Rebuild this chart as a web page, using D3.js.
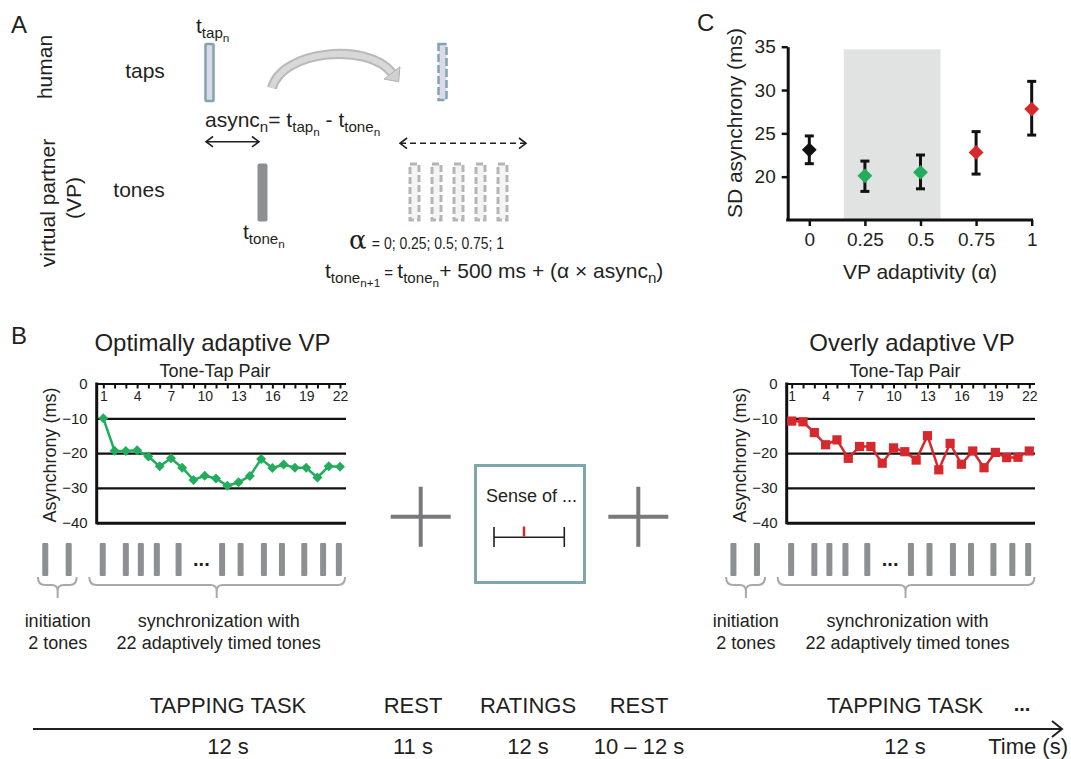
<!DOCTYPE html>
<html>
<head>
<meta charset="utf-8">
<script src="https://cdn.jsdelivr.net/npm/d3@7"></script>
<style>
  body { margin: 0; background: #fff; }
  svg { display: block; }
  text { font-family: 'Liberation Sans', Arial, Helvetica, sans-serif; fill: #231f20; white-space: pre; }
  .narrow { font-family: 'Liberation Sans Narrow', 'Liberation Sans', Arial, sans-serif; }
</style>
</head>
<body>
<div id="container"></div>
<script>
/* DATA */
// tone-tap pairs 1..22
const pairs = [1,2,3,4,5,6,7,8,9,10,11,12,13,14,15,16,17,18,19,20,21,22];
const pairTickLabels = [1,4,7,10,13,16,19,22];
const asyncTicks = [0,-10,-20,-30,-40];
// mean asynchrony (ms) per pair
const optimalAsync = [-10.0,-19.3,-19.4,-19.2,-21.0,-23.8,-21.5,-24.2,-27.7,-26.5,-27.3,-29.4,-28.4,-26.6,-21.7,-24.3,-23.3,-24.2,-24.2,-27.0,-23.8,-23.9];
const overlyAsync = [-10.8,-11.0,-14.1,-17.6,-16.2,-21.5,-18.1,-18.1,-22.9,-18.5,-19.6,-22.0,-15.0,-24.8,-17.2,-23.2,-19.4,-24.2,-19.8,-21.3,-21.2,-19.4];
// tone onsets drawn under the trial plots, in pair units
const initTones = [-4.15,-2.07];
const syncTones = [0.95,3.0,4.33,5.75,7.68,11.54,13.18,15.25,16.85,18.83,20.5,21.9];
const gapPair = 9.7;

// panel C
const alphaLevels = [0,0.25,0.5,0.75,1];
const sdMean = [23.1,20.1,20.5,22.8,27.8];
const sdLow  = [21.5,18.3,18.6,20.3,24.8];
const sdHigh = [24.7,21.8,22.5,25.2,31.0];
const alphaGroup = ['base','opt','opt','over','over'];
const sdTicks = [20,25,30,35];
const alphaTickLabels = ['0','0.25','0.5','0.75','1'];
const shadeAlpha = [0.155,0.59];

// timeline
const phases = ['TAPPING TASK','REST','RATINGS','REST','TAPPING TASK'];
const durations = ['12 s','11 s','12 s','10 \u2013 12 s','12 s'];

/* CONSTANTS */
const width = 1071, height = 759;
const colors = { base: '#111111', opt: '#22ad5c', over: '#d7282d' };
const teal = '#7ea6ab', toneGray = '#8d8f91', braceGray = '#a9a9a9';

const svg = d3.select('#container').append('svg')
  .attr('width', width).attr('height', height);

// rich text helper: parts = [[string, level]] level 0 normal, 1 sub, 2 subsub
function rich(g, x, y, parts, base = 21, anchor = 'start') {
  const t = g.append('text').attr('x', x).attr('y', y).attr('text-anchor', anchor);
  const sizes = [base, base * 0.72, base * 0.56];
  const offs = [0, base * 0.24, base * 0.44];
  let cur = 0;
  parts.forEach(([s, lvl, fs]) => {
    t.append('tspan').attr('dy', offs[lvl] - cur)
      .attr('font-size', fs || sizes[lvl]).text(s);
    cur = offs[lvl];
  });
  return t;
}

/* PANEL A */
const gA = svg.append('g');
gA.append('text').attr('x', 11).attr('y', 33).attr('font-size', 24).text('A');
gA.append('text').attr('transform', 'translate(52,67) rotate(-90)')
  .attr('text-anchor', 'middle').attr('font-size', 21).text('human');
gA.append('text').attr('transform', 'translate(55,203) rotate(-90)')
  .attr('text-anchor', 'middle').attr('font-size', 21).text('virtual partner');
gA.append('text').attr('transform', 'translate(81,198) rotate(-90)')
  .attr('text-anchor', 'middle').attr('font-size', 21).text('(VP)');
gA.append('text').attr('x', 145).attr('y', 78).attr('text-anchor', 'middle').attr('font-size', 21).text('taps');
gA.append('text').attr('x', 139).attr('y', 197).attr('text-anchor', 'middle').attr('font-size', 21).text('tones');

// tap bar and label
gA.append('rect').attr('x', 205.5).attr('y', 44).attr('width', 8).attr('height', 57).attr('rx', 1)
  .attr('fill', '#dcd9ec').attr('stroke', teal).attr('stroke-width', 2.5);
rich(gA, 196, 33, [['t',0],['tap',1],['n',2]]);

// dashed next tap
gA.append('rect').attr('x', 438.5).attr('y', 44).attr('width', 8).attr('height', 56)
  .attr('fill', '#dcd9ec').attr('stroke', teal).attr('stroke-width', 2.5).attr('stroke-dasharray', '8,3');

// curved arrow
const arcPath = 'M272,88 C282,50 368,42 392,73';
gA.append('path').attr('d', arcPath).attr('fill', 'none').attr('stroke', '#b9b9b9').attr('stroke-width', 10);
gA.append('path').attr('d', arcPath).attr('fill', 'none').attr('stroke', '#d8d8d8').attr('stroke-width', 6);
(function () {
  const ex = 392, ey = 73, dx = 24, dy = 31, L = Math.hypot(dx, dy);
  const ux = dx / L, uy = dy / L, px = -uy, py = ux;
  const pts = [[ex + ux * 11, ey + uy * 11], [ex + px * 10, ey + py * 10], [ex - px * 10, ey - py * 10]];
  gA.append('polygon').attr('points', pts.map(p => p.join(',')).join(' '))
    .attr('fill', '#d0d0d0').attr('stroke', '#b0b0b0').attr('stroke-width', 1);
})();

// async formula
rich(gA, 205, 127, [['async',0],['n',1],['= t',0],['tap',1],['n',2],[' - t',0],['tone',1],['n',2]]);
gA.append('path')
  .attr('d', 'M206,141.7 H259 M213,136.5 L206,141.7 L213,146.9 M252,136.5 L259,141.7 L252,146.9')
  .attr('fill', 'none').attr('stroke', '#231f20').attr('stroke-width', 1.6);

// dashed double arrow
gA.append('path').attr('d', 'M400,143.3 H526').attr('stroke', '#231f20').attr('stroke-width', 1.6)
  .attr('stroke-dasharray', '6,4');
gA.append('path').attr('d', 'M407,138 L400,143.3 L407,148.6 M519,138 L526,143.3 L519,148.6')
  .attr('fill', 'none').attr('stroke', '#231f20').attr('stroke-width', 1.6);

// tone bar and label
gA.append('rect').attr('x', 257.5).attr('y', 163.5).attr('width', 10).attr('height', 58).attr('rx', 2)
  .attr('fill', toneGray);
rich(gA, 243, 239, [['t',0],['tone',1],['n',2]]);

// dashed candidate tones
[410, 432, 454, 476, 498].forEach(x => {
  gA.append('rect').attr('x', x).attr('y', 164).attr('width', 9).attr('height', 56)
    .attr('fill', '#f4f4f4').attr('stroke', '#b5b5b5').attr('stroke-width', 3).attr('stroke-dasharray', '7,3');
});

// alpha line
const aText = gA.append('text').attr('x', 349).attr('y', 249);
aText.append('tspan').attr('font-size', 26).attr('font-family', "'DejaVu Serif', serif").text('\u03b1');
gA.append('text').attr('x', 368).attr('y', 249).attr('font-size', 17)
  .attr('textLength', 136).attr('lengthAdjust', 'spacingAndGlyphs').text(' = 0; 0.25; 0.5; 0.75; 1');

rich(gA, 325, 278, [['t',0],['tone',1],['n+1',2],[' = ',0,15],['t',0],['tone',1],['n',2],['+ 500 ms + (\u03b1 \u00d7 async',0],['n',1],[')',0]]);

/* PANEL C */
const gC = svg.append('g');
gC.append('text').attr('x', 697).attr('y', 31).attr('font-size', 24).text('C');
const xC = d3.scaleLinear().domain([0, 1]).range([809.3, 1031.7]);
const yC = d3.scaleLinear().domain([15, 35]).range([220, 46.7]);

gC.append('rect')
  .attr('x', xC(shadeAlpha[0])).attr('width', xC(shadeAlpha[1]) - xC(shadeAlpha[0]))
  .attr('y', yC(34.7)).attr('height', yC(15) - yC(34.7))
  .attr('fill', '#e1e3e3');

const yAxisC = gC.append('g').attr('transform', 'translate(787.7,0)')
  .call(d3.axisLeft(yC).tickValues(sdTicks).tickSize(6).tickSizeOuter(0).tickPadding(6));
yAxisC.select('.domain').attr('stroke-width', 3).attr('stroke', '#111');
yAxisC.selectAll('.tick line').attr('stroke-width', 2.5).attr('stroke', '#111');
yAxisC.selectAll('.tick text').attr('font-size', 19).attr('fill', '#231f20');

const xAxisC = gC.append('g').attr('transform', 'translate(0,220)')
  .call(d3.axisBottom(xC).tickValues(alphaLevels).tickFormat((d, i) => alphaTickLabels[i])
    .tickSize(6).tickSizeOuter(0).tickPadding(7));
xAxisC.select('.domain').remove();
xAxisC.selectAll('.tick line').attr('stroke-width', 2.5).attr('stroke', '#111');
xAxisC.selectAll('.tick text').attr('font-size', 19).attr('fill', '#231f20');
gC.append('line').attr('x1', 786.2).attr('x2', 1033).attr('y1', 220).attr('y2', 220)
  .attr('stroke', '#111').attr('stroke-width', 3);

gC.append('text').attr('transform', 'translate(742,123) rotate(-90)').attr('text-anchor', 'middle')
  .attr('font-size', 21).text('SD asynchrony (ms)');
gC.append('text').attr('x', 920).attr('y', 279).attr('text-anchor', 'middle')
  .attr('font-size', 21).text('VP adaptivity (\u03b1)');

const cData = alphaLevels.map((a, i) => ({ a, m: sdMean[i], lo: sdLow[i], hi: sdHigh[i], g: alphaGroup[i] }));
const eb = gC.selectAll('g.eb').data(cData).join('g').attr('class', 'eb');
eb.append('line').attr('x1', d => xC(d.a)).attr('x2', d => xC(d.a))
  .attr('y1', d => yC(d.lo)).attr('y2', d => yC(d.hi)).attr('stroke', '#111').attr('stroke-width', 3);
eb.append('line').attr('x1', d => xC(d.a) - 4.5).attr('x2', d => xC(d.a) + 4.5)
  .attr('y1', d => yC(d.hi)).attr('y2', d => yC(d.hi)).attr('stroke', '#111').attr('stroke-width', 3);
eb.append('line').attr('x1', d => xC(d.a) - 4.5).attr('x2', d => xC(d.a) + 4.5)
  .attr('y1', d => yC(d.lo)).attr('y2', d => yC(d.lo)).attr('stroke', '#111').attr('stroke-width', 3);
eb.append('path').attr('d', d3.symbol(d3.symbolSquare, 110)())
  .attr('transform', d => `translate(${xC(d.a)},${yC(d.m)}) rotate(45)`)
  .attr('fill', d => colors[d.g]);

/* PANEL B */
svg.append('text').attr('x', 11).attr('y', 344).attr('font-size', 24).text('B');

function drawTrial(cfg) {
  const g = svg.append('g');
  const x = d3.scaleLinear().domain([1, 22]).range(cfg.xRange);
  const y = d3.scaleLinear().domain([-40, 0]).range([522.7, 383.5]);

  g.append('text').attr('x', cfg.titleX).attr('y', 351).attr('text-anchor', 'middle')
    .attr('font-size', 24).text(cfg.title);
  g.append('text').attr('x', cfg.pairX).attr('y', 377).attr('text-anchor', 'middle')
    .attr('font-size', 18).text('Tone-Tap Pair');

  // gridlines + y labels
  const ya = g.append('g').attr('transform', `translate(${cfg.axisX},0)`)
    .call(d3.axisLeft(y).tickValues(asyncTicks).tickSize(-(cfg.rightEnd - cfg.axisX)).tickPadding(9));
  ya.select('.domain').remove();
  ya.selectAll('.tick line').attr('stroke', '#111').attr('stroke-width', d => d === -40 ? 3 : 2.2);
  ya.selectAll('.tick text').attr('font-size', 15).attr('fill', '#231f20');
  g.append('line').attr('x1', cfg.axisX).attr('x2', cfg.axisX)
    .attr('y1', y(0) - 1).attr('y2', y(-40) + 1.5).attr('stroke', '#111').attr('stroke-width', 3);

  // pair ticks along the top
  const xa = g.append('g').attr('transform', `translate(0,${y(0)})`)
    .call(d3.axisBottom(x).tickValues(pairs)
      .tickFormat(d => pairTickLabels.includes(d) ? d : '').tickSize(5).tickSizeOuter(0).tickPadding(3));
  xa.select('.domain').remove();
  xa.selectAll('.tick line').attr('stroke', '#111').attr('stroke-width', 2);
  xa.selectAll('.tick text').attr('font-size', 14).attr('fill', '#231f20');

  g.append('text').attr('transform', `translate(${cfg.axisX - 41},455) rotate(-90)`)
    .attr('text-anchor', 'middle').attr('font-size', 18).text('Asynchrony (ms)');

  // series
  const line = d3.line().x((d, i) => x(pairs[i])).y(d => y(d));
  g.append('path').datum(cfg.values).attr('d', line).attr('fill', 'none')
    .attr('stroke', cfg.color).attr('stroke-width', 2.5);
  g.selectAll('path.mk').data(cfg.values).join('path').attr('class', 'mk')
    .attr('d', d3.symbol(d3.symbolSquare, cfg.markerSize)())
    .attr('transform', (d, i) => `translate(${x(pairs[i])},${y(d)}) rotate(${cfg.rotate})`)
    .attr('fill', cfg.color);

  // tone bars
  g.selectAll('rect.tone').data(initTones.concat(syncTones)).join('rect').attr('class', 'tone')
    .attr('x', d => x(d) - 3).attr('y', 543).attr('width', 6).attr('height', 33).attr('rx', 1)
    .attr('fill', toneGray);
  g.append('text').attr('x', x(gapPair)).attr('y', 566).attr('text-anchor', 'middle')
    .attr('font-size', 20).attr('font-weight', 'bold').attr('fill', '#333').text('...');

  // braces
  function brace(x1, x2, xm) {
    return `M${x1},577 Q${x1},585 ${x1 + 7},585 H${xm - 6} Q${xm},585 ${xm},591 V598 ` +
      `M${xm},591 Q${xm},585 ${xm + 6},585 H${x2 - 7} Q${x2},585 ${x2},577`;
  }
  const bi = [x(-4.8), x(-1.36), x(-3.05)];
  const bs = [x(-0.24), x(22.45), x(11.06)];
  g.append('path').attr('d', brace(...bi)).attr('fill', 'none').attr('stroke', braceGray).attr('stroke-width', 2);
  g.append('path').attr('d', brace(...bs)).attr('fill', 'none').attr('stroke', braceGray).attr('stroke-width', 2);

  g.append('text').attr('x', bi[2]).attr('y', 627).attr('text-anchor', 'middle').attr('font-size', 18).text('initiation');
  g.append('text').attr('x', bi[2]).attr('y', 649).attr('text-anchor', 'middle').attr('font-size', 18).text('2 tones');
  g.append('text').attr('x', bs[2] + 2).attr('y', 627).attr('text-anchor', 'middle').attr('font-size', 18).text('synchronization with');
  g.append('text').attr('x', bs[2] + 2).attr('y', 649).attr('text-anchor', 'middle').attr('font-size', 18).text('22 adaptively timed tones');
}

drawTrial({ xRange: [103.3, 340], axisX: 96.7, rightEnd: 346, titleX: 212.5, pairX: 215,
  title: 'Optimally adaptive VP', values: optimalAsync, color: colors.opt, markerSize: 50, rotate: 45 });
drawTrial({ xRange: [791.7, 1029.3], axisX: 786.7, rightEnd: 1035, titleX: 912, pairX: 905,
  title: 'Overly adaptive VP', values: overlyAsync, color: colors.over, markerSize: 85, rotate: 0 });

// fixation crosses and rating screen
const gM = svg.append('g');
[420.7, 638.3].forEach(cx => {
  gM.append('path').attr('d', `M${cx - 30},516.7 H${cx + 30} M${cx},486.7 V546.7`)
    .attr('stroke', '#77797b').attr('stroke-width', 4);
});
gM.append('rect').attr('x', 475.5).attr('y', 465.5).attr('width', 109).attr('height', 117)
  .attr('fill', '#fff').attr('stroke', teal).attr('stroke-width', 3);
gM.append('text').attr('x', 531.5).attr('y', 502).attr('text-anchor', 'middle').attr('font-size', 18).text('Sense of ...');
gM.append('path').attr('d', 'M494,537.3 H564.3 M494,527 V547 M564.3,527 V547')
  .attr('fill', 'none').attr('stroke', '#231f20').attr('stroke-width', 1.6);
gM.append('line').attr('x1', 524).attr('x2', 524).attr('y1', 526.5).attr('y2', 536.5)
  .attr('stroke', '#d7282d').attr('stroke-width', 2.5);

/* TIMELINE */
const gT = svg.append('g');
const phaseX = [228, 413, 528, 639, 905];
gT.append('line').attr('x1', 33).attr('x2', 1061).attr('y1', 729).attr('y2', 729)
  .attr('stroke', '#231f20').attr('stroke-width', 2);
gT.append('path').attr('d', 'M1052,721 L1062,729 L1052,737').attr('fill', 'none')
  .attr('stroke', '#231f20').attr('stroke-width', 2);
gT.selectAll('text.ph').data(phases).join('text').attr('class', 'ph narrow')
  .attr('x', (d, i) => phaseX[i]).attr('y', 713).attr('text-anchor', 'middle')
  .attr('font-size', 22).text(d => d);
gT.selectAll('text.du').data(durations).join('text').attr('class', 'du narrow')
  .attr('x', (d, i) => phaseX[i]).attr('y', 754).attr('text-anchor', 'middle')
  .attr('font-size', 22).text(d => d);
gT.append('text').attr('class', 'narrow').attr('x', 1022).attr('y', 711).attr('text-anchor', 'middle')
  .attr('font-size', 20).attr('font-weight', 'bold').text('...');
gT.append('text').attr('class', 'narrow').attr('x', 1068).attr('y', 754).attr('text-anchor', 'end')
  .attr('font-size', 22).text('Time (s)');
</script>
</body>
</html>
